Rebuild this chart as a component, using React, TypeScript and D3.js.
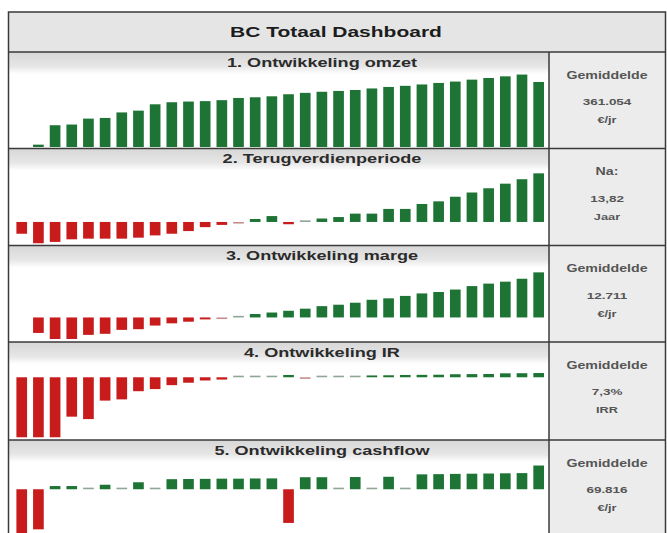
import React from 'react';
import * as d3 from 'd3';

const years = d3.range(1, 33);

const omzet = [null, 17, 158, 163, 206, 211, 251, 264, 310, 325, 330, 333, 340, 356, 361, 368, 383, 393, 401, 407, 414, 425, 436, 444, 454, 465, 475, 489, 501, 513, 526, 472];
const terugverdien = [-300, -542, -508, -442, -425, -425, -425, -400, -342, -300, -232, -132, -75, -18, 75, 150, -58, 25, 88, 125, 212, 212, 332, 332, 458, 525, 642, 750, 858, 975, 1088, 1238];
const marge = [null, -24.8, -34.5, -34.5, -27.9, -26.2, -19.9, -18.8, -13.0, -9.4, -6.8, -3.1, -1.1, 1.3, 5.5, 7.9, 10.7, 14.1, 18.1, 20.4, 23.6, 28.3, 30.6, 34.5, 38.5, 40.8, 44.7, 50.2, 54.2, 57.3, 62.0, 72.2];
const irr = [-99, -99, -99, -65, -69, -38.5, -36.5, -23, -19.5, -13, -9, -5.3, -3.8, 1.2, 1.5, 2.2, 3.8, -1.5, 1.5, 1.5, 1.8, 3, 3.3, 3.8, 4, 4.2, 5, 5.2, 5.4, 6.5, 6.7, 7];
const cashflow = [-882, -613, 49, 49, 12, 69, 12, 107, 12, 154, 157, 159, 162, 162, 165, 166, -515, 184, 184, 12, 187, 12, 191, 12, 228, 231, 235, 238, 241, 244, 247, 363];

const title = 'BC Totaal Dashboard';
const panelTitles = ['1. Ontwikkeling omzet', '2. Terugverdienperiode', '3. Ontwikkeling marge', '4. Ontwikkeling IR', '5. Ontwikkeling cashflow'];
const summaryLabels = ['Gemiddelde', 'Na:', 'Gemiddelde', 'Gemiddelde', 'Gemiddelde'];
const summaryValues = ['361.054', '13,82', '12.711', '7,3%', '69.816'];
const summaryUnits = ['€/jr', 'Jaar', '€/jr', 'IRR', '€/jr'];
const series = [omzet, terugverdien, marge, irr, cashflow];
const domains: [number, number][] = [[0, 559], [-612, 1412], [-39.3, 86.4], [-103.5, 28.5], [-669, 478]];

// layout
const W = 667;
const H = 533;
const left = 8.5;
const right = 665.5;
const sep = 549;
const top = 12;
const panelTops = [52, 148.5, 245.5, 342, 440, 540];
const headerH = 16;
const plotTopPad = 18;

const GREEN = '#1d7434';
const RED = '#c81c1c';
const LINE = '#3a3a3a';
const FONT = '"Liberation Sans", Arial, Helvetica, sans-serif';

const x = d3.scaleBand<number>()
  .domain(years)
  .range([13.4, 547])
  .paddingInner(0.36)
  .paddingOuter(0.18);

function WideText({ x, y, size, children, fill = '#333', sx = 1.42 }: any) {
  return (
    <text transform={`translate(${x},${y}) scale(${sx},1)`} textAnchor="middle"
      fontFamily={FONT} fontWeight="bold" fontSize={size} fill={fill}>
      {children}
    </text>
  );
}

function Panel({ i }: { i: number }) {
  const t = panelTops[i];
  const b = panelTops[i + 1];
  const bottomPx = i === 4 ? H : b - 2.5 + (i === 0 ? 1 : 0);
  const y = d3.scaleLinear().domain(domains[i]).range([
    i === 0 ? 147 : i === 1 ? 246 : i === 2 ? 342 : i === 3 ? 440 : 533,
    t + plotTopPad + (i === 0 ? 0 : 0),
  ]);
  const y0 = y(0);
  const vals = series[i];
  return (
    <g>
      <defs>
        <clipPath id={`clip${i}`}>
          <rect x={left} y={t} width={sep - left} height={b - t} />
        </clipPath>
      </defs>
      <rect x={left} y={t} width={sep - left} height={headerH + 6} fill={`url(#hdr)`} />
      <g clipPath={`url(#clip${i})`}>
        {vals.map((v, k) => {
          if (v === null) return null;
          const yv = y(v);
          let h = Math.abs(yv - y0);
          const tiny = h < 1.6;
          if (tiny) h = 1.6;
          const yy = v >= 0 ? y0 - h : y0;
          const col = v >= 0 ? GREEN : RED;
          return (
            <rect key={k} x={x(years[k])} y={yy} width={x.bandwidth()} height={h}
              fill={tiny ? (v >= 0 ? '#8fa596' : '#c78d8d') : col} />
          );
        })}
      </g>
      <WideText x={322} y={t + 14.5} size={12.5} fill="#2b2b2b" sx={1.45}>{panelTitles[i]}</WideText>
      <WideText x={607} y={t + 26.5} size={10} fill="#555">{summaryLabels[i]}</WideText>
      <WideText x={607} y={t + 53} size={9.5} fill="#555">{summaryValues[i]}</WideText>
      <WideText x={607} y={t + 71} size={9} fill="#555">{summaryUnits[i]}</WideText>
    </g>
  );
}

export default function App() {
  return (
    <svg width={W} height={H} style={{ position: 'absolute', left: 0, top: 0, background: '#fff' }}>
      <defs>
        <linearGradient id="hdr" x1="0" y1="0" x2="0" y2="1">
          <stop offset="0" stopColor="#d7d7d7" />
          <stop offset="0.65" stopColor="#e6e6e6" />
          <stop offset="1" stopColor="#ffffff" />
        </linearGradient>
      </defs>
      <rect x={left} y={top} width={right - left} height={panelTops[0] - top} fill="#e5e5e5" />
      <rect x={sep} y={panelTops[0]} width={right - sep} height={H - panelTops[0]} fill="#ececec" />
      {panelTitles.map((_, i) => <Panel key={i} i={i} />)}
      <WideText x={336} y={37} size={15} fill="#1c1c1c" sx={1.4}>{title}</WideText>
      <g stroke={LINE} strokeWidth={1.5} fill="none">
        <rect x={left} y={top} width={right - left} height={H + 10} />
        {panelTops.slice(0, 5).map((p, i) => <line key={i} x1={left} x2={right} y1={p} y2={p} />)}
        <line x1={sep} x2={sep} y1={panelTops[0]} y2={H} />
      </g>
    </svg>
  );
}
